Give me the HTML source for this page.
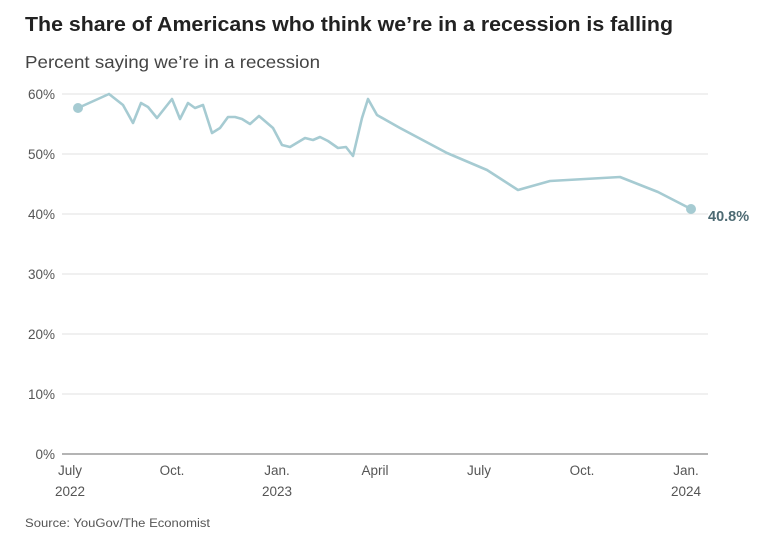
<!DOCTYPE html>
<html><head><meta charset="utf-8"><style>
html,body{margin:0;padding:0;background:#fff;}
body{width:780px;height:547px;overflow:hidden;position:relative;font-family:"Liberation Sans",sans-serif;}
</style></head><body>
<svg width="780" height="547" xmlns="http://www.w3.org/2000/svg" style="position:absolute;left:0;top:0">
<text x="25" y="31" font-size="20" font-weight="bold" fill="#222" font-family="Liberation Sans" textLength="648" lengthAdjust="spacingAndGlyphs">The share of Americans who think we’re in a recession is falling</text>
<text x="25" y="68" font-size="17.5" fill="#444" font-family="Liberation Sans" textLength="295" lengthAdjust="spacingAndGlyphs">Percent saying we’re in a recession</text>
<g stroke="#e2e2e2" stroke-width="1">
<line x1="62" x2="708" y1="94" y2="94"/>
<line x1="62" x2="708" y1="154" y2="154"/>
<line x1="62" x2="708" y1="214" y2="214"/>
<line x1="62" x2="708" y1="274" y2="274"/>
<line x1="62" x2="708" y1="334" y2="334"/>
<line x1="62" x2="708" y1="394" y2="394"/>
</g>
<line x1="62" x2="708" y1="454" y2="454" stroke="#888" stroke-width="1.2"/>
<g font-size="13.5" fill="#555" font-family="Liberation Sans" text-anchor="end">
<text x="55" y="99">60%</text><text x="55" y="159">50%</text><text x="55" y="219">40%</text>
<text x="55" y="279">30%</text><text x="55" y="339">20%</text><text x="55" y="399">10%</text>
<text x="55" y="459">0%</text>
</g>
<g font-size="13.5" fill="#555" font-family="Liberation Sans" text-anchor="middle">
<text x="70" y="475">July</text><text x="70" y="496">2022</text>
<text x="172" y="475">Oct.</text>
<text x="277" y="475">Jan.</text><text x="277" y="496">2023</text>
<text x="375" y="475">April</text>
<text x="479" y="475">July</text>
<text x="582" y="475">Oct.</text>
<text x="686" y="475">Jan.</text><text x="686" y="496">2024</text>
</g>
<polyline fill="none" stroke="#a6cbd2" stroke-width="2.6" stroke-linejoin="round" points="78,108 109,94 123,105 133,123 141,103 148,107 157,118 172,99 180,119 188,103 195,108 203,105 212,133 220,128 228,117 235,117 242,119 250,124 259,116 273,128 282,145 290,147 305,138 313,140 320,137 328,141 338,148 346,147 353,156 362,118 368,99 377,115 400,128 447,153 487,170 518,190 550,181 620,177 658,192 691,209"/>
<circle cx="78" cy="108" r="5" fill="#a6cbd2"/>
<circle cx="691" cy="209" r="5" fill="#a6cbd2"/>
<text x="708" y="221" font-size="14.5" font-weight="bold" fill="#4d6a73" font-family="Liberation Sans">40.8%</text>
<text x="25" y="527" font-size="11.5" fill="#555" font-family="Liberation Sans" textLength="185" lengthAdjust="spacingAndGlyphs">Source: YouGov/The Economist</text>
</svg>
</body></html>
